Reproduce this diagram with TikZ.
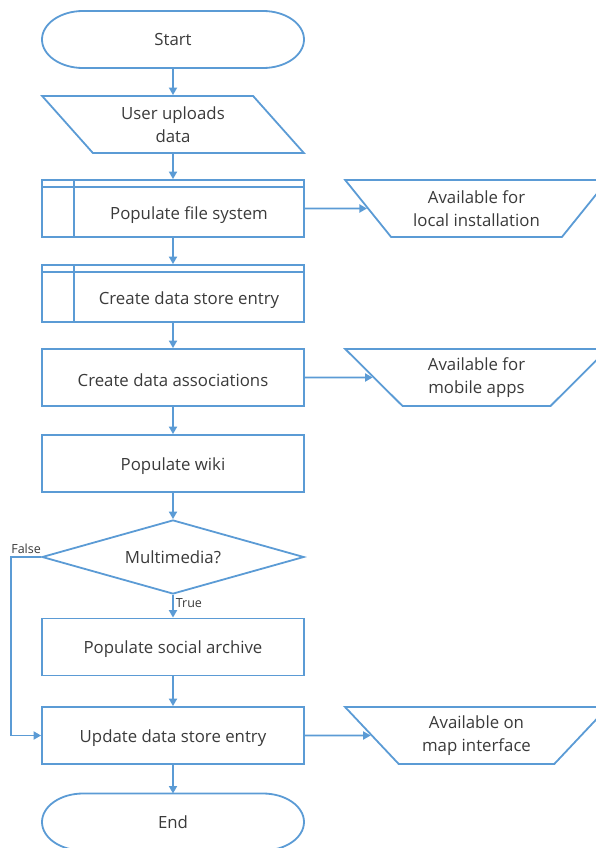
\documentclass[tikz,border=0pt]{standalone}
\usepackage{fontspec}
\setmainfont{Open Sans}
\usetikzlibrary{shapes.geometric}
\usetikzlibrary{arrows.meta}
\definecolor{kante}{RGB}{91,155,213}
\definecolor{schrift}{RGB}{58,58,58}

\begin{document}
\begin{tikzpicture}[x=1pt, y=-1pt, kante, line width=1.8pt,
    font=\fontsize{16.8}{23.5}\selectfont, text=schrift,
    box/.style={draw, rectangle, minimum width=262pt, minimum height=57pt, inner sep=0pt, align=center,
        execute at begin node={\rule{0pt}{17.5pt}}},
    ablage/.style={box, align=none,
        execute at begin node={\hspace*{32pt}\rule{0pt}{26pt}},
        path picture={
            \draw ([yshift=-7pt]path picture bounding box.north west) -- ([yshift=-7pt]path picture bounding box.north east);
            \draw ([xshift=32pt]path picture bounding box.north west) -- ([xshift=32pt]path picture bounding box.south west);
        }},
    % Start/Ende mit elliptischen Kappen (Anker liegen auf der Linienmitte)
    term/.style={rectangle, minimum width=260.2pt, minimum height=55.2pt, inner sep=0pt,
        append after command={\pgfextra{\let\termnode\tikzlastnode
            \draw ([xshift=41pt]\termnode.north west) -- ([xshift=-41pt]\termnode.north east)
                arc[start angle=90, end angle=-90, x radius=41pt, y radius=28.5pt]
                -- ([xshift=41pt]\termnode.south west)
                arc[start angle=270, end angle=90, x radius=41pt, y radius=28.5pt] -- cycle;}}},
    eingabe/.style={draw, trapezium, trapezium left angle=132, trapezium right angle=48,
        trapezium stretches=true, minimum width=262pt, minimum height=57pt, inner sep=0pt, align=center},
    manuell/.style={draw, trapezium, shape border rotate=180, trapezium left angle=47, trapezium right angle=47,
        trapezium stretches=true, minimum width=263pt, minimum height=57pt, inner sep=0pt, align=center},
    raute/.style={draw, diamond, aspect=3.54, minimum width=262pt, minimum height=74pt, inner sep=0pt},
    lbl/.style={font=\fontsize{12.5}{14}\selectfont, text=schrift, inner sep=2pt},
    fluss/.style={-{Triangle[length=7.5pt,width=8pt]}}]

    \clip (0,0) rectangle (596,848);

    % Hauptstrang
    \node[term] (start) at (173,39.5) {Start};
    \node[eingabe] (upload) at (173,124.5) {User uploads\\data};
    \node[ablage] (pfs) at (173,208.5) {Populate file system};
    \node[ablage] (dse) at (173,293.5) {Create data store entry};
    \node[box] (assoc) at (173,377.5) {Create data associations};
    \node[box] (wiki) at (173,463.5) {Populate wiki};
    \node[raute] (multi) at (173,557) {Multimedia?};
    \node[box] (social) at (173,647) {Populate social archive};
    \node[box] (update) at (173,735.5) {Update data store entry};
    \node[term] (ende) at (173,822) {End};

    % Ausgaben rechts
    \node[manuell] (lokal) at (476.5,208.5) {Available for\\local installation};
    \node[manuell] (mobil) at (476.5,377.5) {Available for\\mobile apps};
    \node[manuell] (karte) at (476.5,735.5) {Available on\\map interface};

    \draw[fluss] (start) -- (upload);
    \draw[fluss] (upload) -- (pfs);
    \draw[fluss] (pfs) -- (dse);
    \draw[fluss] (dse) -- (assoc);
    \draw[fluss] (assoc) -- (wiki);
    \draw[fluss] (wiki) -- (multi);
    \draw[fluss] (multi) -- node[lbl, right, pos=0.38] {True} (social);
    \draw[fluss] (social) -- (update);
    \draw[fluss] (update) -- (ende);
    \draw[fluss] (multi.west) -- node[lbl, above] {False} ++(-30,0) |- (update.west);

    \draw[fluss] (pfs) -- (lokal);
    \draw[fluss] (assoc) -- (mobil);
    \draw[fluss] (update) -- (karte);

\end{tikzpicture}
\end{document}
